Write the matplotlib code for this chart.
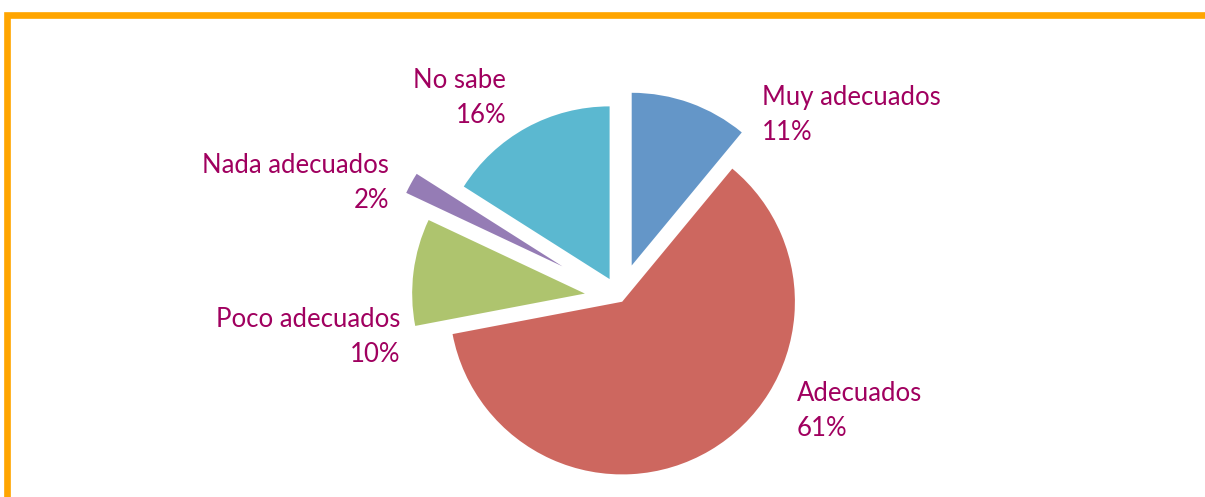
import matplotlib.pyplot as plt
from matplotlib.patches import Rectangle

# datos de la encuesta
categorias = ["Muy adecuados", "Adecuados", "Poco adecuados", "Nada adecuados", "No sabe"]
porcentajes = [11, 61, 10, 2, 16]
colores = ["#6496C8", "#CD675F", "#AEC46E", "#957CB5", "#5BB8D0"]
separacion = [0.20, 0.025, 0.205, 0.38, 0.125]

W, H = 1205, 497
R = 172.7          # radio en pixeles
CX, CY = 620, 298  # centro en pixeles (y hacia abajo)


def px(x, y):
    # pixeles de la imagen -> unidades del grafico (radio = 1)
    return (x - CX) / R, (CY - y) / R


fig = plt.figure(figsize=(W / 100, H / 100), dpi=100)
ax = fig.add_axes([0, 0, 1, 1])
ax.pie(porcentajes, colors=colores, explode=separacion, startangle=90,
       counterclock=False, radius=1, center=(0, 0),
       wedgeprops=dict(linewidth=0))
ax.set_xlim(-CX / R, (W - CX) / R)
ax.set_ylim(-(H - CY) / R, CY / R)
ax.set_aspect("auto")
ax.axis("off")

# etiquetas (linea base del porcentaje, alineacion)
etiquetas = {
    "Muy adecuados": ((762, 140), "left"),
    "Adecuados": ((797, 436), "left"),
    "Poco adecuados": ((400, 362), "right"),
    "Nada adecuados": ((389, 208), "right"),
    "No sabe": ((506, 123), "right"),
}
for cat, pct in zip(categorias, porcentajes):
    (x, y), ha = etiquetas[cat]
    tx, ty = px(x, y)
    ax.text(tx, ty, f"{cat}\n{pct}%", ha=ha, va="baseline", multialignment=ha,
            fontsize=18.5, family=["Lato", "DejaVu Sans"], color="#A0005F",
            linespacing=1.48)

# marco naranja
fig.patches.append(Rectangle((7.5 / W, -0.1), 1.2, (H - 15) / H + 0.1,
                             transform=fig.transFigure, fill=False,
                             edgecolor="#FFA500", linewidth=4.8))

plt.savefig("out.png", dpi=100)
